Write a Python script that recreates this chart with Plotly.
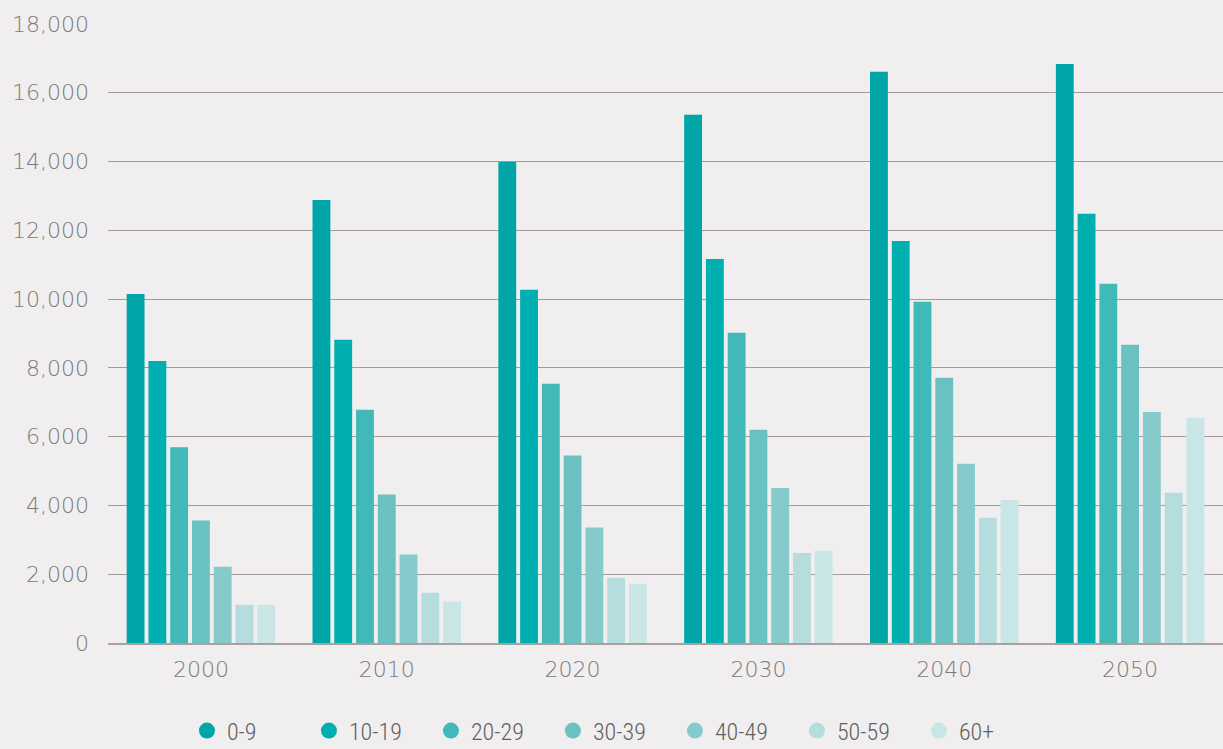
import plotly.graph_objects as go

years = ["2000", "2010", "2020", "2030", "2040", "2050"]
groups = ["0-9", "10-19", "20-29", "30-39", "40-49", "50-59", "60+"]
v_0_9 = [10150, 12880, 13990, 15360, 16610, 16840]
v_10_19 = [8200, 8820, 10270, 11170, 11690, 12480]
v_20_29 = [5690, 6780, 7540, 9020, 9920, 10450]
v_30_39 = [3560, 4320, 5450, 6200, 7710, 8670]
v_40_49 = [2220, 2570, 3360, 4510, 5210, 6720]
v_50_59 = [1110, 1460, 1900, 2620, 3640, 4370]
v_60p = [1110, 1200, 1720, 2680, 4160, 6550]
series = [v_0_9, v_10_19, v_20_29, v_30_39, v_40_49, v_50_59, v_60p]
colors = ["#00A6A7", "#00AFAF", "#41B9B8", "#69C1C2", "#86CACB", "#B5DDDE", "#C9E6E6"]

fig = go.Figure()
for name, vals, c in zip(groups, series, colors):
    fig.add_trace(go.Bar(x=years, y=vals, name=name, marker=dict(color=c, line=dict(width=0)),
                         showlegend=False))
for name, c in zip(groups, colors):
    fig.add_trace(go.Scatter(x=[None], y=[None], mode="markers", name=name,
                             marker=dict(color=c, size=28, symbol="circle"), showlegend=True))

tick_font = dict(size=22, color="#7a7a7a", family="DejaVu Sans, sans-serif", weight=200)

fig.update_layout(
    width=1223, height=749,
    paper_bgcolor="#F1EEEF", plot_bgcolor="#F1EEEF",
    margin=dict(l=108, r=0, t=24, b=106),
    barmode="group", bargap=0.18, bargroupgap=0.18,
    font=dict(family="DejaVu Sans, sans-serif", color="#7a7a7a"),
    legend=dict(orientation="h", xref="container", yref="container",
                x=0.502, xanchor="center", y=0.024, yanchor="middle",
                font=dict(size=24, color="#5f5f5f", weight=300,
                          family="Liberation Sans Narrow, Roboto Condensed, Roboto, sans-serif"),
                itemsizing="trace", bgcolor="rgba(0,0,0,0)", traceorder="normal",
                entrywidth=77, itemwidth=30),
    showlegend=True,
)
fig.update_xaxes(type="category", showgrid=False, showline=True, linecolor="#ABA0A0", linewidth=2,
                 ticks="", tickfont=tick_font, ticklabelstandoff=6)
fig.update_yaxes(range=[0, 18000], dtick=2000, tickformat=",", showgrid=True, gridcolor="#A99A9A",
                 gridwidth=1.3, zeroline=False, ticks="", tickfont=tick_font,
                 ticklabelstandoff=18)

fig.write_html("out.html", config={"displayModeBar": False},
               post_script="document.body.style.margin='0';document.body.style.overflow='hidden';")
